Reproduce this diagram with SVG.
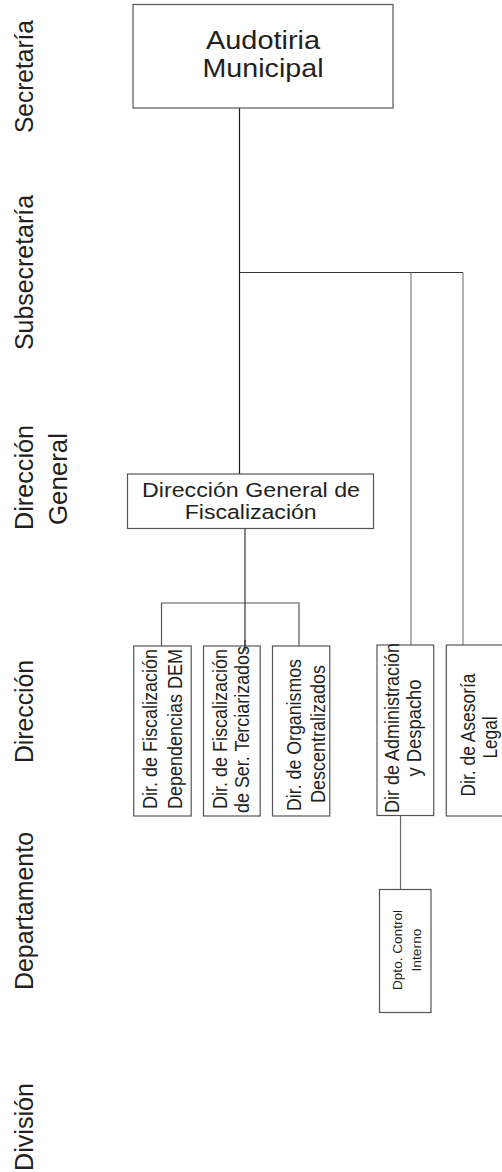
<svg xmlns="http://www.w3.org/2000/svg" width="502" height="1172" viewBox="0 0 502 1172">
<style>
text{font-family:"Liberation Sans",Arial,sans-serif;fill:#231f20;text-anchor:middle}
.lvl{font-size:26px}
.bx{fill:#fff;stroke:#555;stroke-width:1.2}
.t20{font-size:20.5px}
.t26{font-size:26px}
.t13{font-size:13.5px}
.c{fill:none;stroke-width:1.2}
</style>
<rect width="502" height="1172" fill="#fff"/>
<g id="levels">
<text class="lvl" transform="translate(33.3,76.5) rotate(-90)" textLength="113" lengthAdjust="spacingAndGlyphs">Secretaría</text>
<text class="lvl" transform="translate(33.3,272.5) rotate(-90)" textLength="155" lengthAdjust="spacingAndGlyphs">Subsecretaría</text>
<text class="lvl" transform="translate(33.3,477.5) rotate(-90)" textLength="105" lengthAdjust="spacingAndGlyphs">Dirección</text>
<text class="lvl" transform="translate(66.7,479) rotate(-90)" textLength="92" lengthAdjust="spacingAndGlyphs">General</text>
<text class="lvl" transform="translate(33.3,711.5) rotate(-90)" textLength="103" lengthAdjust="spacingAndGlyphs">Dirección</text>
<text class="lvl" transform="translate(33.3,911) rotate(-90)" textLength="158" lengthAdjust="spacingAndGlyphs">Departamento</text>
<text class="lvl" transform="translate(33.3,1127) rotate(-90)" textLength="88" lengthAdjust="spacingAndGlyphs">División</text>
</g>
<g id="connectors">
<path class="c" stroke="#1a1a1a" d="M239.5 108 V474"/>
<path class="c" stroke="#333" d="M239.5 272.5 H463"/>
<path class="c" stroke="#808080" d="M411 272.5 V645 M463 272.5 V645"/>
<path class="c" stroke="#333" d="M245 528.5 V646"/>
<path class="c" stroke="#555" d="M161.5 646 V603 H299 V646"/>
<path class="c" stroke="#666" d="M400.5 815 V889.5"/>
</g>
<g id="audotiria">
<rect class="bx" x="133" y="4.5" width="260" height="103.5" stroke="#444"/>
<text class="t26" x="263" y="49.3" textLength="114" lengthAdjust="spacingAndGlyphs">Audotiria</text>
<text class="t26" x="263" y="77.3" textLength="121" lengthAdjust="spacingAndGlyphs">Municipal</text>
</g>
<g id="dgf">
<rect class="bx" x="127.5" y="474" width="246" height="54.5" stroke="#333"/>
<text class="t20" x="251" y="496.7" textLength="218" lengthAdjust="spacingAndGlyphs">Dirección General de</text>
<text class="t20" x="250.7" y="518.7" textLength="132" lengthAdjust="spacingAndGlyphs">Fiscalización</text>
</g>
<g id="dir1">
<rect class="bx" x="133.7" y="646" width="57.5" height="170"/>
<text class="t20" transform="translate(157,729) rotate(-90)" textLength="160" lengthAdjust="spacingAndGlyphs">Dir. de Fiscalización</text>
<text class="t20" transform="translate(181.5,729) rotate(-90)" textLength="160" lengthAdjust="spacingAndGlyphs">Dependencias DEM</text>
</g>
<g id="dir2">
<rect class="bx" x="203.5" y="646" width="56.7" height="170"/>
<text class="t20" transform="translate(226.7,729) rotate(-90)" textLength="160" lengthAdjust="spacingAndGlyphs">Dir. de Fiscalización</text>
<text class="t20" transform="translate(249.3,729.5) rotate(-90)" textLength="167" lengthAdjust="spacingAndGlyphs">de Ser. Terciarizados</text>
</g>
<path class="c" stroke="#333" d="M245 640 V651"/>
<g id="dir3">
<rect class="bx" x="272.5" y="646" width="57.3" height="170"/>
<text class="t20" transform="translate(301,735) rotate(-90)" textLength="152" lengthAdjust="spacingAndGlyphs">Dir. de Organismos</text>
<text class="t20" transform="translate(325,734) rotate(-90)" textLength="138" lengthAdjust="spacingAndGlyphs">Descentralizados</text>
</g>
<g id="dir4">
<rect class="bx" x="377" y="645" width="56.7" height="170.5" stroke="#444"/>
<text class="t20" transform="translate(399.3,728) rotate(-90)" textLength="170" lengthAdjust="spacingAndGlyphs">Dir de Administración</text>
<text class="t20" transform="translate(421,728) rotate(-90)" textLength="97" lengthAdjust="spacingAndGlyphs">y Despacho</text>
</g>
<g id="dir5">
<rect class="bx" x="446.3" y="645" width="60" height="171" stroke="#444"/>
<text class="t20" transform="translate(475,735) rotate(-90)" textLength="123" lengthAdjust="spacingAndGlyphs">Dir. de Asesoría</text>
<text class="t20" transform="translate(497,737.5) rotate(-90)" textLength="42" lengthAdjust="spacingAndGlyphs">Legal</text>
</g>
<g id="dpto">
<rect class="bx" x="379.5" y="889.5" width="51.5" height="123" stroke="#666"/>
<text class="t13" transform="translate(402,950) rotate(-90)" textLength="80" lengthAdjust="spacingAndGlyphs">Dpto. Control</text>
<text class="t13" transform="translate(421,950) rotate(-90)" textLength="43" lengthAdjust="spacingAndGlyphs">Interno</text>
</g>
</svg>
